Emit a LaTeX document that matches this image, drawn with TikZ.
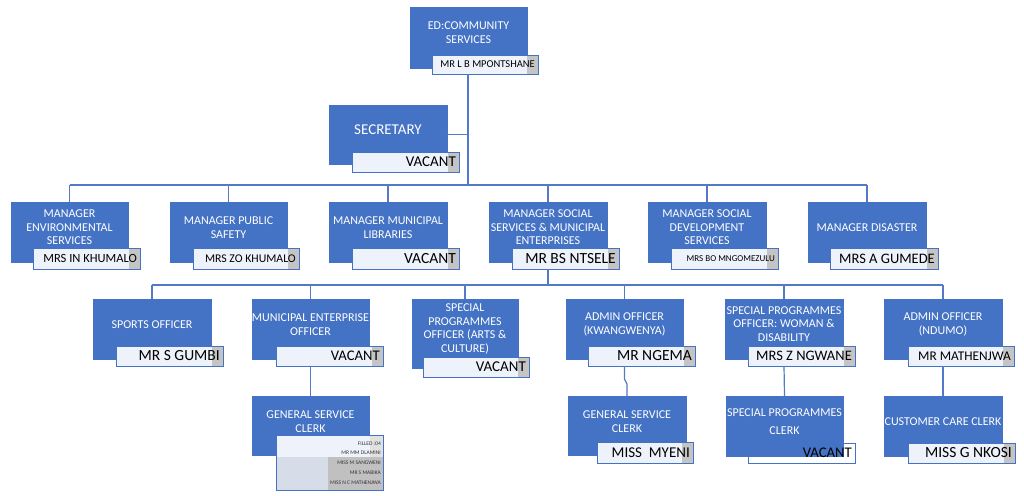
\documentclass[tikz,border=0pt]{standalone}
\usepackage{fontspec}
\setmainfont{Carlito}
\definecolor{boxblue}{RGB}{68,114,196}
\definecolor{lblfill}{RGB}{238,242,250}
\definecolor{lblgray}{RGB}{196,196,196}
\definecolor{tblblue}{RGB}{214,221,233}
\definecolor{tblgray}{RGB}{192,192,192}
\definecolor{linecol}{RGB}{82,122,200}
\tikzset{
 obox/.style={fill=boxblue, draw=boxblue, line width=0.6pt, inner sep=0pt, outer sep=0pt},
 otext/.style={text=white, align=center, font=\fontsize{12}{13.5}\selectfont, inner sep=0pt},
 olabel/.style={fill=lblfill, inner sep=0pt, outer sep=0pt},
 lborder/.style={draw=boxblue, line width=0.8pt},
 conn/.style={draw=linecol, line width=1.2pt},
 tbltext/.style={anchor=base east, inner sep=0pt, text=black!80, font=\fontsize{5.5}{5.5}\selectfont},
}
% name x y w h dy text
\newcommand\OBox[7]{%
 \node[obox, minimum width=#4pt, minimum height=#5pt] (#1) at ({#2+#4/2},{#3+#5/2}) {};
 \node[otext] (#1-t) at ({#2+#4/2},{#3+#6}) {#7};}
% name x y w h size text
\newcommand\OLabel[7]{%
 \node[olabel, minimum width=#4pt, minimum height=#5pt] (#1) at ({#2+#4/2},{#3+#5/2}) {};
 \fill[lblgray] ({#2+#4-11},#3) rectangle ({#2+#4},{#3+#5});
 \draw[lborder] (#1.north west) rectangle (#1.south east);
 \node[anchor=base east, inner sep=0pt, font=\fontsize{#6}{#6}\selectfont] (#1-t) at ({#2+#4-3},{#3+#5/2+0.32*#6}) {#7};}
\begin{document}
\begin{tikzpicture}[x=1pt,y=-1pt]
\fill[white] (0,0) rectangle (1024,495);
\useasboundingbox (0,0) rectangle (1024,495);

% ---- boxes and labels ----
\OBox{ed}{410}{7}{117}{61}{25.5}{ED:COMMUNITY\\SERVICES}
\OLabel{edl}{432}{55}{106}{19}{10.5}{MR L B MPONTSHANE}

\OBox{sec}{329}{105}{118}{59}{25}{\fontsize{15}{15}\selectfont SECRETARY}
\OLabel{secl}{352}{152}{107}{20}{15}{VACANT}

\OBox{env}{11}{202}{117}{60}{25.5}{MANAGER\\ENVIRONMENTAL\\SERVICES}
\OLabel{envl}{33}{248}{107}{21}{12.5}{MRS IN KHUMALO}
\OBox{pub}{170}{202}{117}{60}{25.5}{MANAGER PUBLIC\\SAFETY}
\OLabel{publ}{193}{248}{106}{21}{11.8}{MRS ZO KHUMALO}
\OBox{lib}{329}{202}{118}{60}{25.5}{MANAGER MUNICIPAL\\LIBRARIES}
\OLabel{libl}{352}{248}{107}{21}{15.5}{VACANT}
\OBox{sss}{489}{202}{118}{60}{25.5}{MANAGER SOCIAL\\SERVICES \& MUNICIPAL\\ENTERPRISES}
\OLabel{sssl}{512}{248}{107}{21}{15.5}{MR BS NTSELE}
\OBox{sdev}{648}{202}{118}{60}{25.5}{MANAGER SOCIAL\\DEVELOPMENT\\SERVICES}
\OLabel{sdevl}{671}{248}{107}{21}{9}{MRS BO MNGOMEZULU}
\OBox{dis}{808}{202}{118}{60}{25.5}{MANAGER DISASTER}
\OLabel{disl}{830}{248}{108}{21}{14.5}{MRS A GUMEDE}

\OBox{spo}{93}{299}{118}{60}{26}{SPORTS OFFICER}
\OLabel{spol}{116}{346}{107}{20}{15.5}{MR S GUMBI}
\OBox{mun}{252}{299}{117}{60}{25.5}{MUNICIPAL ENTERPRISE\\OFFICER}
\OLabel{munl}{276}{346}{107}{20}{14.7}{VACANT}
\OBox{arts}{412}{299}{106}{69}{30}{SPECIAL\\PROGRAMMES\\OFFICER (ARTS \&\\CULTURE)}
\OLabel{artsl}{423}{357}{106}{20}{15}{VACANT}
\OBox{akw}{566}{299}{117}{60}{25.5}{ADMIN OFFICER\\(KWANGWENYA)}
\OLabel{akwl}{588}{346}{107}{20}{15.5}{MR NGEMA}
\OBox{spw}{725}{299}{118}{60}{25}{SPECIAL PROGRAMMES\\OFFICER: WOMAN \&\\DISABILITY}
\OLabel{spwl}{748}{346}{107}{20}{14.5}{MRS Z NGWANE}
\OBox{adn}{884}{299}{118}{60}{25.5}{ADMIN OFFICER\\(NDUMO)}
\OLabel{adnl}{908}{346}{106}{20}{13.3}{MR MATHENJWA}

% row 3
\OBox{gsc}{252}{396}{117}{59}{25.5}{GENERAL SERVICE\\CLERK}
\node[olabel, minimum width=107pt, minimum height=55pt] (gsct) at (329.5,462.5) {};
\fill[tblblue] (276,457) rectangle (328,490);
\fill[tblgray] (328,457) rectangle (383,490);
\fill[lblgray!50] (370,435) rectangle (383,457);
\draw[lborder] (gsct.north west) rectangle (gsct.south east);
\node[tbltext] (gsct-1) at (381,445) {FILLED :04};
\node[tbltext] (gsct-2) at (381,454.5) {MR MM DLAMINI};
\node[tbltext] (gsct-3) at (381,464) {MISS M SANGWENI};
\node[tbltext] (gsct-4) at (381,474) {MR S MABIKA};
\node[tbltext] (gsct-5) at (381,484) {MISS N C MATHENJWA};

\OBox{gsc2}{568}{396}{118}{59}{25.5}{GENERAL SERVICE\\CLERK}
\OLabel{gsc2l}{597}{442}{96}{21}{15}{MISS\ \ MYENI}

\node[fill=white, inner sep=0pt, outer sep=0pt, minimum width=107pt, minimum height=20pt] (spcl) at (801.5,453) {};
\draw[lborder] (spcl.north west) rectangle (spcl.south east);
\OBox{spc}{726}{396}{117}{60}{26}{SPECIAL PROGRAMMES\\[4.5pt]CLERK}
\node[anchor=base east, inner sep=0pt, font=\fontsize{14.7}{14.7}\selectfont] (spcl-t) at (852,457.7) {VACANT};

\OBox{cus}{884}{396}{118}{60}{26}{CUSTOMER CARE CLERK}
\OLabel{cusl}{908}{443}{107}{20}{15.5}{MISS G NKOSI}

% ---- connectors ----
\begin{scope}[on background layer/.try]
\end{scope}
\coordinate (bus1) at (468,185);
\coordinate (bus2) at (548,285);
\draw[conn] (edl.south -| bus1) -- (bus1);
\draw[conn] (sec.east) -- (sec.east -| bus1);
\draw[conn] (bus1 -| env.north) -- (bus1 -| dis.north);
\foreach \n in {env,pub,lib,sss,sdev,dis}{\draw[conn] (bus1 -| \n.north) -- (\n.north);}
\draw[conn] (sss.south |- sssl.south) -- (sss.south |- bus2);
\draw[conn] (bus2 -| spo.north) -- (bus2 -| adn.north);
\foreach \n in {spo,mun,arts,akw,spw,adn}{\draw[conn] (bus2 -| \n.north) -- (\n.north);}
\draw[conn] (mun.south |- munl.south) -- (gsc.north);
\draw[conn] (akw.south |- akwl.south) -- ++(0,13) -- ([yshift=12pt]gsc2.north) -- (gsc2.north);
\draw[conn] (spw.south |- spwl.south) -- (spc.north);
\draw[conn] (adn.south |- adnl.south) -- (cus.north);
\end{tikzpicture}
\end{document}
